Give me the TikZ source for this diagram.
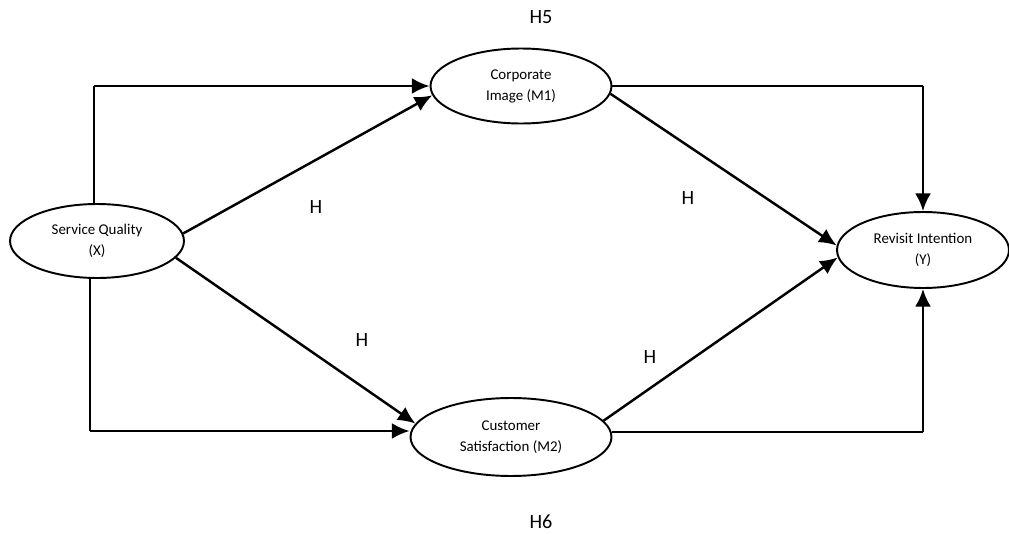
\documentclass[tikz,border=0pt]{standalone}
\usepackage{fontspec}
\setmainfont{Carlito}
\usetikzlibrary{arrows.meta}
\usetikzlibrary{shapes.geometric}

\tikzset{
  construct/.style={draw=black, line width=1.1pt, ellipse, inner sep=0pt, align=center,
    font=\fontsize{8.5}{12}\selectfont},
  hyplabel/.style={font=\fontsize{11.5}{14}\selectfont},
  patharrow/.style={line width=1.4pt, -{Latex[length=10pt,width=9pt]}},
  thinline/.style={line width=0.6pt},
}

\begin{document}
\begin{tikzpicture}[x=0.02cm, y=-0.02cm]
\useasboundingbox (0,0) rectangle (1009,534);

%The constructs:
\node[construct, minimum width=3.48cm, minimum height=1.48cm] (sq) at (97,241) {Service Quality\\(X)};
\node[construct, minimum width=3.62cm, minimum height=1.5cm] (ci) at (521,86) {Corporate\\Image (M1)};
\node[construct, minimum width=4.02cm, minimum height=1.56cm] (cs) at (511,437) {Customer\\Satisfaction (M2)};
\node[construct, minimum width=3.44cm, minimum height=1.52cm] (ri) at (923,250) {Revisit Intention\\(Y)};

%Corner points of the long paths:
\coordinate (tl) at ([xshift=-0.06cm]sq.north |- ci.west);
\coordinate (bl) at ([xshift=-0.14cm,yshift=0.12cm]sq.south |- cs.west);
\coordinate (tr) at (ri.north |- ci.east);
\coordinate (br) at ([yshift=0.1cm]ri.south |- cs.east);

%Direct paths:
\draw[thinline] ([xshift=-0.06cm]sq.north) -- (tl);
\draw[patharrow] (tl) -- (ci.west);
\draw[thinline] ([xshift=-0.14cm]sq.south) -- (bl);
\draw[patharrow] (bl) -- ([yshift=0.12cm]cs.west);
\draw[patharrow] (sq.5) -- (ci.186);
\draw[patharrow] (sq.-12) -- (cs.172);
\draw[patharrow] (ci.-5) -- (ri.177);
\draw[patharrow] (cs.10) -- (ri.185);
\draw[thinline] (ci.east) -- (tr);
\draw[patharrow] (tr) -- (ri.north);
\draw[thinline] ([yshift=0.1cm]cs.east) -- (br);
\draw[patharrow] (br) -- (ri.south);

%Hypothesis labels:
\node[hyplabel] (h5) at (541,17) {H5};
\node[hyplabel] (h6) at (541,522) {H6};
\node[hyplabel] (h1) at (316,207) {H};
\node[hyplabel] (h2) at (362,340) {H};
\node[hyplabel] (h3) at (688,198) {H};
\node[hyplabel] (h4) at (650,357) {H};

\end{tikzpicture}
\end{document}
